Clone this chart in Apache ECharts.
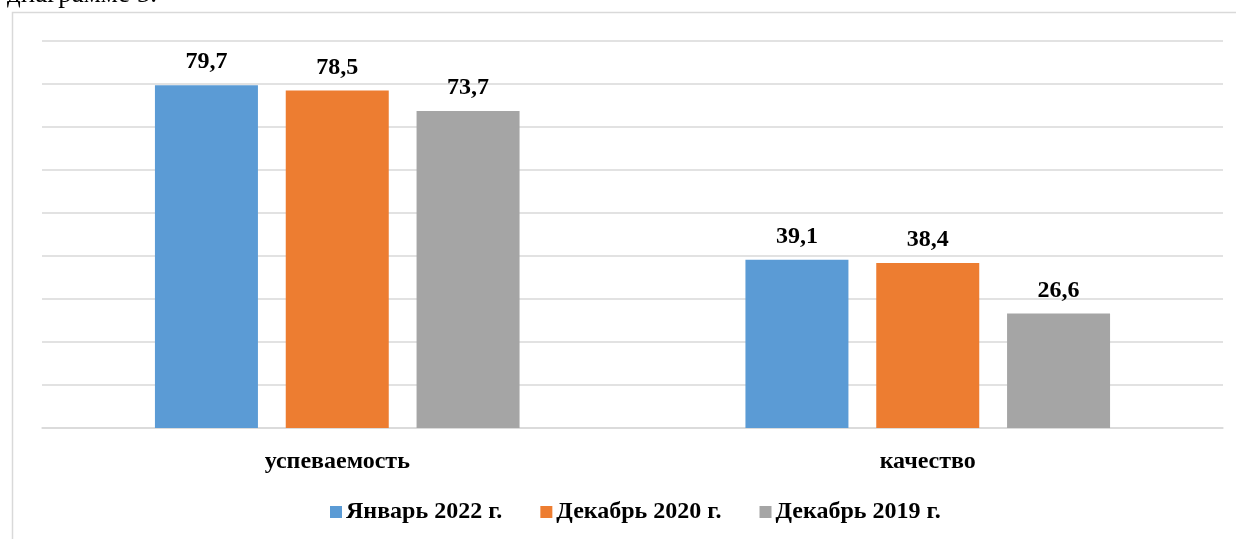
<!DOCTYPE html>
<html>
<head>
<meta charset="utf-8">
<script src="https://cdn.jsdelivr.net/npm/echarts@6/dist/echarts.min.js"></script>
<style>
html,body{margin:0;padding:0;background:#fff;}
#chart{width:1236px;height:539px;}
</style>
</head>
<body>
<div id="chart"></div>
<script>
const categories = ['успеваемость', 'качество'];
const seriesNames = ['Январь 2022 г.', 'Декабрь 2020 г.', 'Декабрь 2019 г.'];
const jan2022 = [79.7, 39.1];
const dec2020 = [78.5, 38.4];
const dec2019 = [73.7, 26.6];
const colors = ['#5b9bd5', '#ed7d31', '#a5a5a5'];

const font = '"Liberation Serif", "Times New Roman", serif';
const values = [jan2022, dec2020, dec2019];

const chart = echarts.init(document.getElementById('chart'), null, {renderer: 'canvas'});
chart.setOption({
  animation: false,
  backgroundColor: '#fff',
  graphic: [
    {type: 'rect', shape: {x: 12.5, y: 12.5, width: 1400, height: 800},
     style: {fill: 'none', stroke: '#d9d9d9', lineWidth: 1.5}, z: -1},
    {type: 'text', left: 7, top: -19,
     style: {text: 'диаграмме 5.', font: '27px ' + font, fill: '#000'}}
  ],
  legend: {
    bottom: 10,
    left: 325,
    itemWidth: 12,
    itemHeight: 12,
    itemGap: 38,
    icon: 'rect',
    textStyle: {fontFamily: font, fontWeight: 'bold', fontSize: 24, color: '#000', padding: [0, 0, 0, -1]},
    data: seriesNames
  },
  grid: {left: 42, right: 13, top: 41, bottom: 111, containLabel: false},
  xAxis: {
    type: 'category',
    data: categories,
    axisLine: {show: true, lineStyle: {color: '#d9d9d9', width: 1.5}},
    axisTick: {show: false},
    axisLabel: {margin: 22, fontFamily: font, fontWeight: 'bold', fontSize: 24, color: '#000'}
  },
  yAxis: {
    type: 'value',
    min: 0, max: 90, interval: 10,
    axisLabel: {show: false},
    axisLine: {show: false},
    axisTick: {show: false},
    splitLine: {lineStyle: {color: '#d9d9d9', width: 1.5}}
  },
  series: seriesNames.map((n, i) => ({
    name: n,
    type: 'bar',
    data: values[i],
    barWidth: 103,
    barGap: '27%',
    itemStyle: {color: colors[i]},
    label: {
      show: true, position: 'top', distance: 11,
      formatter: p => String(p.value).replace('.', ','),
      fontFamily: font, fontWeight: 'bold', fontSize: 24, color: '#000'
    }
  }))
});
</script>
</body>
</html>
